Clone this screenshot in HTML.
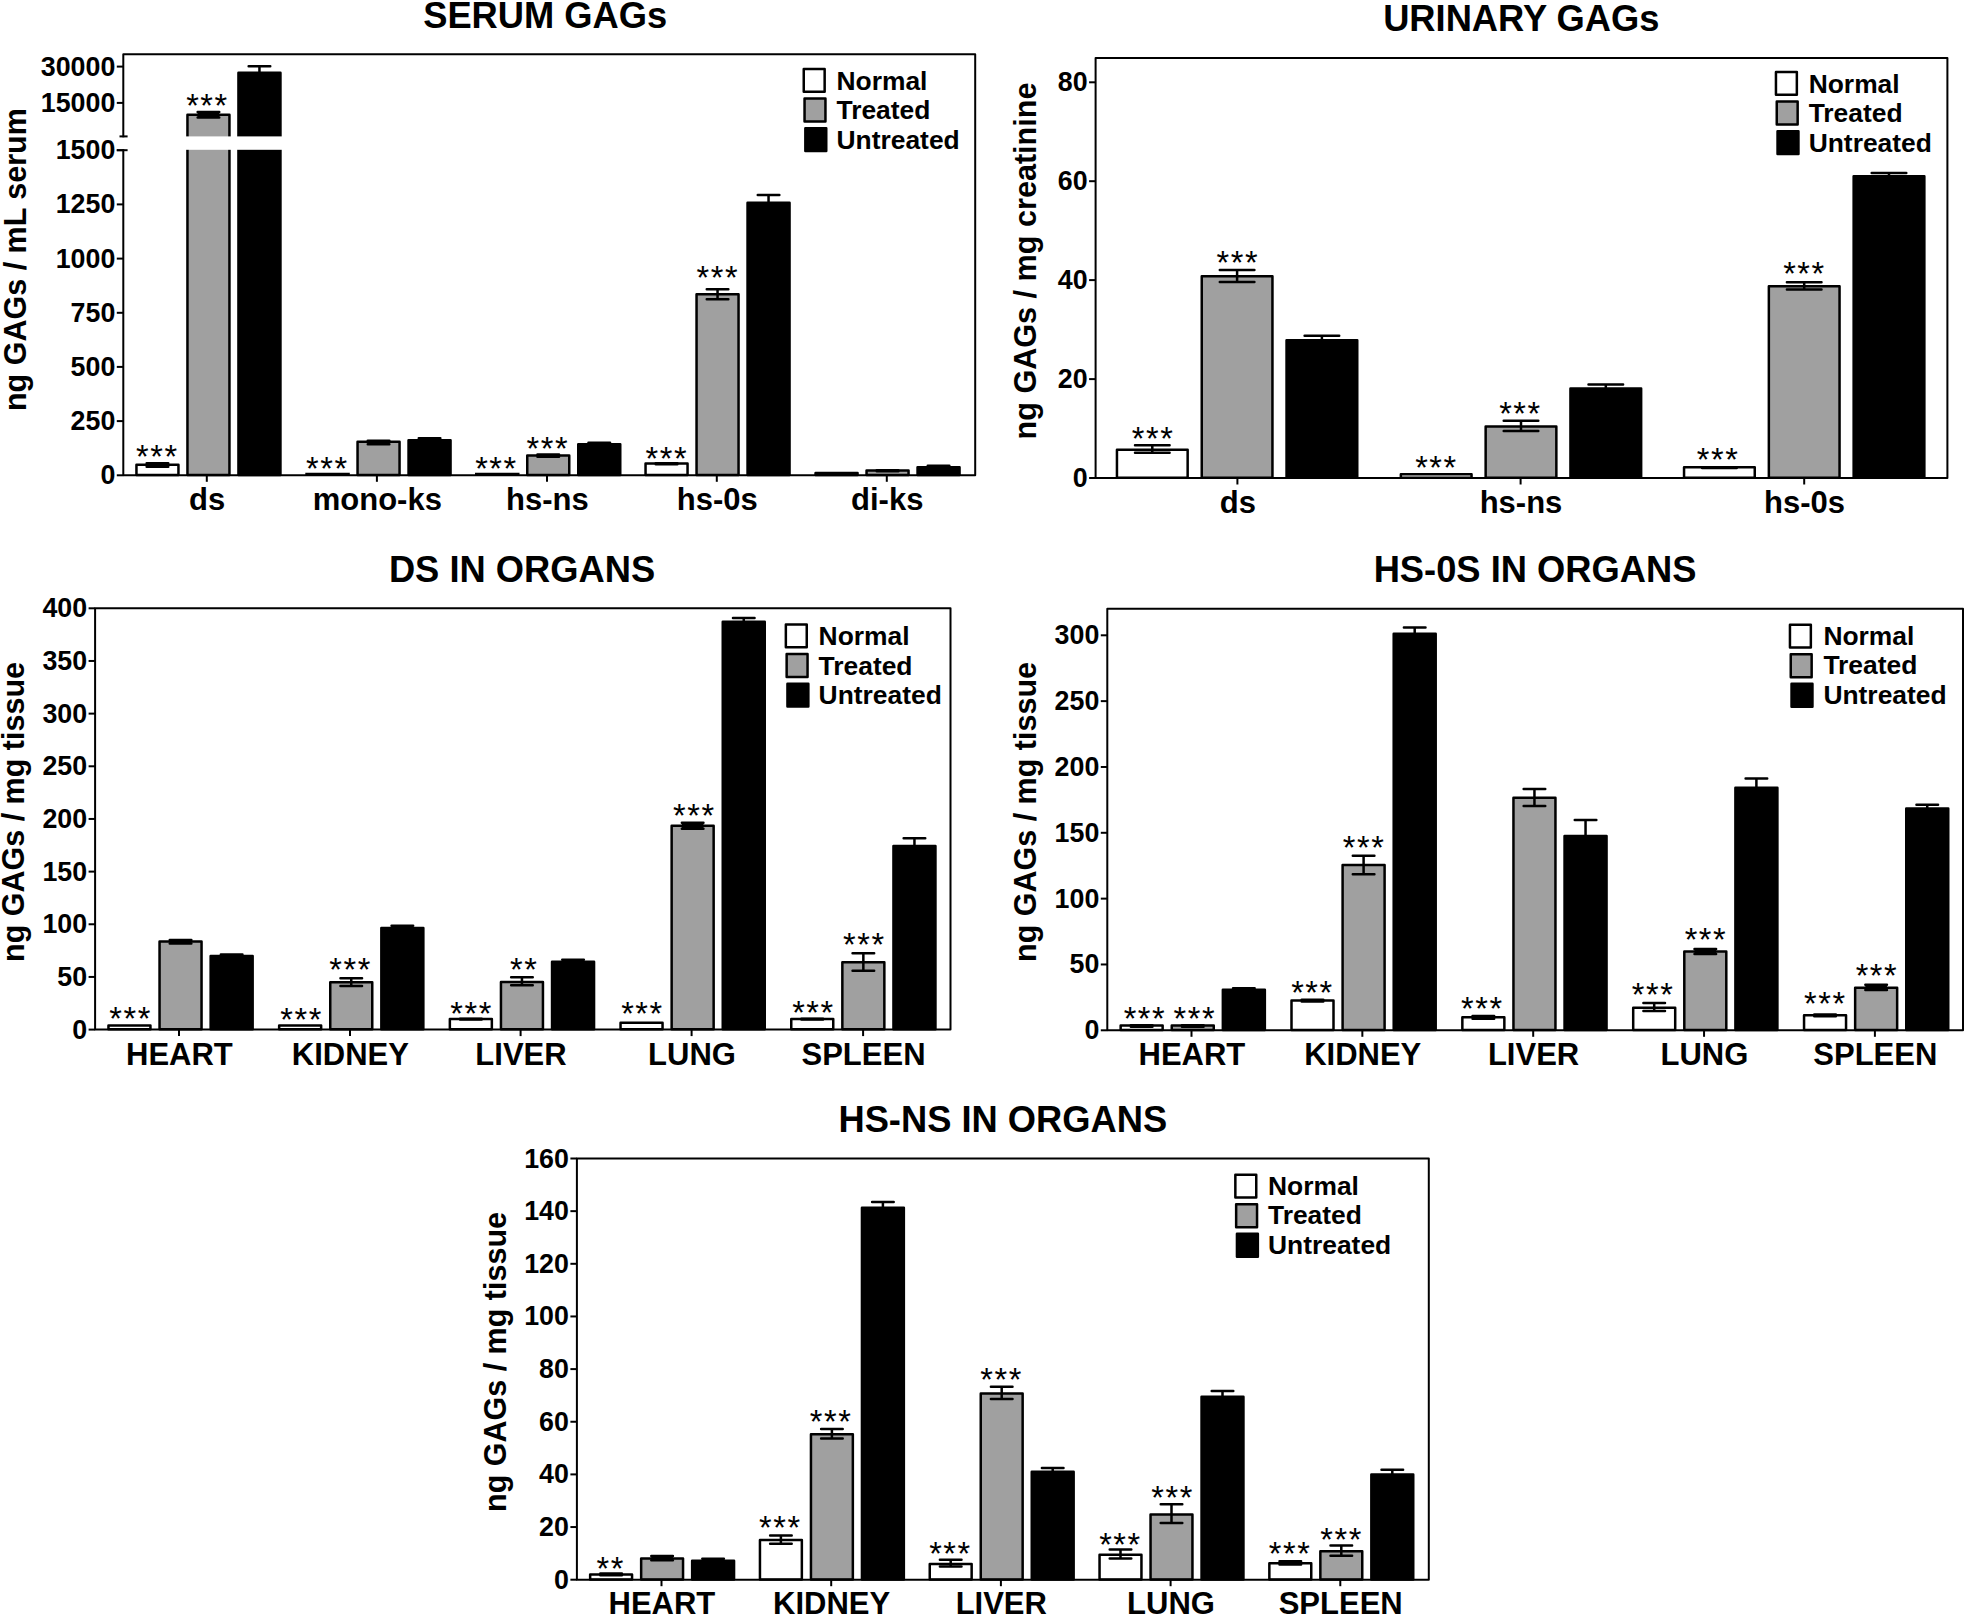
<!DOCTYPE html>
<html lang="en"><head><meta charset="utf-8"><title>GAGs in serum, urine and organs</title>
<style>
html,body{margin:0;padding:0;background:#fff;overflow:hidden;}
svg{display:block;}
text{font-family:"Liberation Sans",Arial,Helvetica,sans-serif;fill:#000;font-weight:bold;text-anchor:middle;}
line,rect{stroke:#000;stroke-width:2;stroke-linejoin:round;}
.b{stroke-width:2.5;}.eb{stroke:#000;stroke-width:2.5;stroke-linecap:round;fill:none;}
.n{font-weight:normal;letter-spacing:1.6px;}.e{text-anchor:end;}.s{text-anchor:start;}.ns{stroke:none;}
</style></head><body>
<svg width="1965" height="1616" viewBox="0 0 1965 1616">
<rect x="0" y="0" width="1965" height="1616" fill="#fff" class="ns"/>
<g>
<text x="545.2" y="27.8" font-size="36.3">SERUM GAGs</text>
<text transform="translate(25.5,259.6) rotate(-90)" font-size="30.5">ng GAGs / mL serum</text>
<rect class="b" x="136.45" y="464.75" width="42" height="10.3" fill="#ffffff"/>
<path class="eb" d="M157.45 463.3V466.8M146.65 463.3H168.25M146.65 466.8H168.25"/>
<rect class="ns" x="146.65" y="463.3" width="21.6" height="3.5" fill="#000"/>
<text x="157.4" y="467.98" font-size="32.5" class="n">***</text>
<rect class="b" x="187.45" y="114.65" width="42" height="360.4" fill="#a0a0a0"/>
<path class="eb" d="M208.45 111.9V117.4M197.65 111.9H219.25M197.65 117.4H219.25"/>
<rect class="ns" x="197.65" y="111.9" width="21.6" height="5.5" fill="#000"/>
<text x="207.5" y="116.88" font-size="32.5" class="n">***</text>
<rect class="b" x="238.45" y="72.85" width="42" height="402.2" fill="#000000"/>
<path class="eb" d="M259.45 66.3V73.1M248.65 66.3H270.25"/>
<line x1="206.8" y1="475.3" x2="206.8" y2="481.8"/>
<text x="207.2" y="510" font-size="31">ds</text>
<line class="b" x1="305.3" y1="474.1" x2="349.8" y2="474.1"/>
<text x="327.3" y="479.98" font-size="32.5" class="n">***</text>
<rect class="b" x="357.55" y="441.75" width="42" height="33.3" fill="#a0a0a0"/>
<path class="eb" d="M378.55 440.8V444.3M367.75 440.8H389.35M367.75 444.3H389.35"/>
<rect class="ns" x="367.75" y="440.8" width="21.6" height="3.5" fill="#000"/>
<rect class="b" x="408.55" y="440.25" width="42" height="34.8" fill="#000000"/>
<path class="eb" d="M429.55 438.3V440.5M418.75 438.3H440.35"/>
<line x1="376.9" y1="475.3" x2="376.9" y2="481.8"/>
<text x="377.3" y="510" font-size="31">mono-ks</text>
<line class="b" x1="475" y1="474.1" x2="519.5" y2="474.1"/>
<text x="496.5" y="479.98" font-size="32.5" class="n">***</text>
<rect class="b" x="527.25" y="455.55" width="42" height="19.5" fill="#a0a0a0"/>
<path class="eb" d="M548.25 454.5V456.8M537.45 454.5H559.05M537.45 456.8H559.05"/>
<rect class="ns" x="537.45" y="454.5" width="21.6" height="2.3" fill="#000"/>
<text x="547.8" y="460.48" font-size="32.5" class="n">***</text>
<rect class="b" x="578.25" y="444.25" width="42" height="30.8" fill="#000000"/>
<path class="eb" d="M599.25 442.8V444.5M588.45 442.8H610.05"/>
<line x1="547" y1="475.3" x2="547" y2="481.8"/>
<text x="547.4" y="510" font-size="31">hs-ns</text>
<rect class="b" x="645.55" y="463.55" width="42" height="11.5" fill="#ffffff"/>
<path class="eb" d="M666.55 463.3V464.3M655.75 463.3H677.35M655.75 464.3H677.35"/>
<text x="666.8" y="470.48" font-size="32.5" class="n">***</text>
<rect class="b" x="696.55" y="294.25" width="42" height="180.8" fill="#a0a0a0"/>
<path class="eb" d="M717.55 289.3V299.2M706.75 289.3H728.35M706.75 299.2H728.35"/>
<text x="717.8" y="288.68" font-size="32.5" class="n">***</text>
<rect class="b" x="747.55" y="202.75" width="42" height="272.3" fill="#000000"/>
<path class="eb" d="M768.55 194.9V203M757.75 194.9H779.35"/>
<line x1="716.8" y1="475.3" x2="716.8" y2="481.8"/>
<text x="717.2" y="510" font-size="31">hs-0s</text>
<rect class="b" x="815.55" y="473.05" width="42" height="2" fill="#ffffff"/>
<rect class="b" x="866.55" y="470.55" width="42" height="4.5" fill="#a0a0a0"/>
<path class="eb" d="M887.55 470.3V471.3M876.75 470.3H898.35M876.75 471.3H898.35"/>
<rect class="b" x="917.55" y="467.25" width="42" height="7.8" fill="#000000"/>
<path class="eb" d="M938.55 465.8V467.5M927.75 465.8H949.35"/>
<line x1="886.8" y1="475.3" x2="886.8" y2="481.8"/>
<text x="887.2" y="510" font-size="31">di-ks</text>
<rect x="126" y="136.4" width="170" height="13.4" fill="#fff" class="ns"/>
<rect x="118" y="137.2" width="8" height="12" fill="#fff" class="ns"/>
<rect x="123.3" y="54.2" width="851.9" height="421.1" fill="none"/>
<line x1="116.8" y1="66.6" x2="123.3" y2="66.6"/>
<text x="115.3" y="75.6" font-size="26.8" class="e">30000</text>
<line x1="116.8" y1="102.9" x2="123.3" y2="102.9"/>
<text x="115.3" y="111.9" font-size="26.8" class="e">15000</text>
<line x1="116.8" y1="150.2" x2="123.3" y2="150.2"/>
<text x="115.3" y="159.2" font-size="26.8" class="e">1500</text>
<line x1="116.8" y1="204.4" x2="123.3" y2="204.4"/>
<text x="115.3" y="213.4" font-size="26.8" class="e">1250</text>
<line x1="116.8" y1="258.6" x2="123.3" y2="258.6"/>
<text x="115.3" y="267.6" font-size="26.8" class="e">1000</text>
<line x1="116.8" y1="312.8" x2="123.3" y2="312.8"/>
<text x="115.3" y="321.8" font-size="26.8" class="e">750</text>
<line x1="116.8" y1="366.9" x2="123.3" y2="366.9"/>
<text x="115.3" y="375.9" font-size="26.8" class="e">500</text>
<line x1="116.8" y1="421.1" x2="123.3" y2="421.1"/>
<text x="115.3" y="430.1" font-size="26.8" class="e">250</text>
<line x1="116.8" y1="475.3" x2="123.3" y2="475.3"/>
<text x="115.3" y="484.3" font-size="26.8" class="e">0</text>
<rect class="b" x="803.75" y="68.95" width="20.9" height="22.9" fill="#ffffff"/>
<text x="836.5" y="89.6" font-size="26.4" class="s">Normal</text>
<rect class="b" x="804.55" y="98.55" width="20.9" height="22.9" fill="#a0a0a0"/>
<text x="836.5" y="119.2" font-size="26.4" class="s">Treated</text>
<rect class="b" x="805.35" y="128.15" width="20.9" height="22.9" fill="#000000"/>
<text x="836.5" y="148.8" font-size="26.4" class="s">Untreated</text>
</g>
<rect x="118" y="137.3" width="10.5" height="11.8" fill="#fff" class="ns"/>
<line x1="119.5" y1="136.4" x2="127.6" y2="136.4"/>
<line x1="116.8" y1="150.2" x2="127.6" y2="150.2"/>
<g>
<text x="1521.3" y="30.5" font-size="36.3">URINARY GAGs</text>
<text transform="translate(1035.6,261) rotate(-90)" font-size="30.6">ng GAGs / mg creatinine</text>
<rect class="b" x="1116.95" y="449.85" width="70.7" height="27.9" fill="#ffffff"/>
<path class="eb" d="M1152.3 445.3V452.8M1135 445.3H1169.6M1135 452.8H1169.6"/>
<text x="1153.2" y="450.08" font-size="32.5" class="n">***</text>
<rect class="b" x="1201.75" y="276.35" width="70.7" height="201.4" fill="#a0a0a0"/>
<path class="eb" d="M1237.1 270.1V282.1M1219.8 270.1H1254.4M1219.8 282.1H1254.4"/>
<text x="1237.8" y="273.98" font-size="32.5" class="n">***</text>
<rect class="b" x="1286.55" y="340.15" width="70.7" height="137.6" fill="#000000"/>
<path class="eb" d="M1321.9 335.7V340.4M1304.6 335.7H1339.2"/>
<line x1="1237.4" y1="478" x2="1237.4" y2="484.5"/>
<text x="1237.8" y="512.9" font-size="31">ds</text>
<rect class="b" x="1400.85" y="474.15" width="70.7" height="3.6" fill="#ffffff"/>
<text x="1436.5" y="478.88" font-size="32.5" class="n">***</text>
<rect class="b" x="1485.65" y="426.55" width="70.7" height="51.2" fill="#a0a0a0"/>
<path class="eb" d="M1521 420.8V431M1503.7 420.8H1538.3M1503.7 431H1538.3"/>
<text x="1520.5" y="424.98" font-size="32.5" class="n">***</text>
<rect class="b" x="1570.45" y="388.45" width="70.7" height="89.3" fill="#000000"/>
<path class="eb" d="M1605.8 384.5V388.7M1588.5 384.5H1623.1"/>
<line x1="1520.6" y1="478" x2="1520.6" y2="484.5"/>
<text x="1521" y="512.9" font-size="31">hs-ns</text>
<rect class="b" x="1684.05" y="467.35" width="70.7" height="10.4" fill="#ffffff"/>
<path class="eb" d="M1719.4 467.2V468M1702.1 467.2H1736.7M1702.1 468H1736.7"/>
<text x="1718.2" y="470.78" font-size="32.5" class="n">***</text>
<rect class="b" x="1768.85" y="286.15" width="70.7" height="191.6" fill="#a0a0a0"/>
<path class="eb" d="M1804.2 282.2V289.6M1786.9 282.2H1821.5M1786.9 289.6H1821.5"/>
<text x="1804.5" y="284.78" font-size="32.5" class="n">***</text>
<rect class="b" x="1853.65" y="176.25" width="70.7" height="301.5" fill="#000000"/>
<path class="eb" d="M1889 173.1V176.5M1871.7 173.1H1906.3"/>
<line x1="1804.2" y1="478" x2="1804.2" y2="484.5"/>
<text x="1804.6" y="512.9" font-size="31">hs-0s</text>
<rect x="1095.6" y="57.9" width="851.8" height="420.1" fill="none"/>
<line x1="1089.1" y1="82.3" x2="1095.6" y2="82.3"/>
<text x="1087.6" y="91.3" font-size="26.8" class="e">80</text>
<line x1="1089.1" y1="181.2" x2="1095.6" y2="181.2"/>
<text x="1087.6" y="190.2" font-size="26.8" class="e">60</text>
<line x1="1089.1" y1="280.1" x2="1095.6" y2="280.1"/>
<text x="1087.6" y="289.1" font-size="26.8" class="e">40</text>
<line x1="1089.1" y1="379.1" x2="1095.6" y2="379.1"/>
<text x="1087.6" y="388.1" font-size="26.8" class="e">20</text>
<line x1="1089.1" y1="478" x2="1095.6" y2="478"/>
<text x="1087.6" y="487" font-size="26.8" class="e">0</text>
<rect class="b" x="1775.95" y="71.95" width="20.9" height="22.9" fill="#ffffff"/>
<text x="1808.7" y="92.5" font-size="26.4" class="s">Normal</text>
<rect class="b" x="1776.75" y="101.55" width="20.9" height="22.9" fill="#a0a0a0"/>
<text x="1808.7" y="122.1" font-size="26.4" class="s">Treated</text>
<rect class="b" x="1777.55" y="131.15" width="20.9" height="22.9" fill="#000000"/>
<text x="1808.7" y="151.7" font-size="26.4" class="s">Untreated</text>
</g>
<g>
<text x="522" y="581.6" font-size="36.3">DS IN ORGANS</text>
<text transform="translate(23.8,812) rotate(-90)" font-size="30.5">ng GAGs / mg tissue</text>
<rect class="b" x="108.45" y="1025.55" width="42" height="3.8" fill="#ffffff"/>
<text x="130.6" y="1030.08" font-size="32.5" class="n">***</text>
<rect class="b" x="159.55" y="941.45" width="42" height="87.9" fill="#a0a0a0"/>
<path class="eb" d="M180.55 939.9V943.5M169.75 939.9H191.35M169.75 943.5H191.35"/>
<rect class="ns" x="169.75" y="939.9" width="21.6" height="3.6" fill="#000"/>
<rect class="b" x="210.65" y="955.95" width="42" height="73.4" fill="#000000"/>
<path class="eb" d="M231.65 954.6V956.2M220.85 954.6H242.45"/>
<line x1="179" y1="1029.6" x2="179" y2="1036.1"/>
<text x="179.4" y="1065.3" font-size="31">HEART</text>
<rect class="b" x="279.15" y="1025.55" width="42" height="3.8" fill="#ffffff"/>
<text x="301.7" y="1031.27" font-size="32.5" class="n">***</text>
<rect class="b" x="330.25" y="982.25" width="42" height="47.1" fill="#a0a0a0"/>
<path class="eb" d="M351.25 978.2V986M340.45 978.2H362.05M340.45 986H362.05"/>
<text x="350.7" y="981.18" font-size="32.5" class="n">***</text>
<rect class="b" x="381.35" y="927.95" width="42" height="101.4" fill="#000000"/>
<path class="eb" d="M402.35 925.7V928.2M391.55 925.7H413.15"/>
<line x1="350" y1="1029.6" x2="350" y2="1036.1"/>
<text x="350.4" y="1065.3" font-size="31">KIDNEY</text>
<rect class="b" x="449.85" y="1019.05" width="42" height="10.3" fill="#ffffff"/>
<path class="eb" d="M470.85 1018.8V1019.6M460.05 1018.8H481.65M460.05 1019.6H481.65"/>
<text x="471.7" y="1025.08" font-size="32.5" class="n">***</text>
<rect class="b" x="500.95" y="982.05" width="42" height="47.3" fill="#a0a0a0"/>
<path class="eb" d="M521.95 977.3V985.3M511.15 977.3H532.75M511.15 985.3H532.75"/>
<text x="524.2" y="981.18" font-size="32.5" class="n">**</text>
<rect class="b" x="552.05" y="961.75" width="42" height="67.6" fill="#000000"/>
<path class="eb" d="M573.05 959.7V962M562.25 959.7H583.85"/>
<line x1="520.6" y1="1029.6" x2="520.6" y2="1036.1"/>
<text x="521" y="1065.3" font-size="31">LIVER</text>
<rect class="b" x="620.55" y="1022.85" width="42" height="6.5" fill="#ffffff"/>
<text x="642.5" y="1025.08" font-size="32.5" class="n">***</text>
<rect class="b" x="671.65" y="825.75" width="42" height="203.6" fill="#a0a0a0"/>
<path class="eb" d="M692.65 822.7V828.8M681.85 822.7H703.45M681.85 828.8H703.45"/>
<rect class="ns" x="681.85" y="822.7" width="21.6" height="6.1" fill="#000"/>
<text x="694.3" y="826.98" font-size="32.5" class="n">***</text>
<rect class="b" x="722.75" y="621.65" width="42" height="407.7" fill="#000000"/>
<path class="eb" d="M743.75 617.9V621.9M732.95 617.9H754.55"/>
<line x1="691.6" y1="1029.6" x2="691.6" y2="1036.1"/>
<text x="692" y="1065.3" font-size="31">LUNG</text>
<rect class="b" x="791.25" y="1019.05" width="42" height="10.3" fill="#ffffff"/>
<path class="eb" d="M812.25 1018.8V1019.6M801.45 1018.8H823.05M801.45 1019.6H823.05"/>
<text x="813.5" y="1023.77" font-size="32.5" class="n">***</text>
<rect class="b" x="842.35" y="962.25" width="42" height="67.1" fill="#a0a0a0"/>
<path class="eb" d="M863.35 953.2V970.7M852.55 953.2H874.15M852.55 970.7H874.15"/>
<text x="864.3" y="956.18" font-size="32.5" class="n">***</text>
<rect class="b" x="893.45" y="846.05" width="42" height="183.3" fill="#000000"/>
<path class="eb" d="M914.45 838.3V846.3M903.65 838.3H925.25"/>
<line x1="863.1" y1="1029.6" x2="863.1" y2="1036.1"/>
<text x="863.5" y="1065.3" font-size="31">SPLEEN</text>
<rect x="95.1" y="608.3" width="855.4" height="421.3" fill="none"/>
<line x1="88.6" y1="608.3" x2="95.1" y2="608.3"/>
<text x="87.1" y="617.3" font-size="26.8" class="e">400</text>
<line x1="88.6" y1="660.96" x2="95.1" y2="660.96"/>
<text x="87.1" y="669.96" font-size="26.8" class="e">350</text>
<line x1="88.6" y1="713.62" x2="95.1" y2="713.62"/>
<text x="87.1" y="722.62" font-size="26.8" class="e">300</text>
<line x1="88.6" y1="766.29" x2="95.1" y2="766.29"/>
<text x="87.1" y="775.29" font-size="26.8" class="e">250</text>
<line x1="88.6" y1="818.95" x2="95.1" y2="818.95"/>
<text x="87.1" y="827.95" font-size="26.8" class="e">200</text>
<line x1="88.6" y1="871.61" x2="95.1" y2="871.61"/>
<text x="87.1" y="880.61" font-size="26.8" class="e">150</text>
<line x1="88.6" y1="924.27" x2="95.1" y2="924.27"/>
<text x="87.1" y="933.27" font-size="26.8" class="e">100</text>
<line x1="88.6" y1="976.94" x2="95.1" y2="976.94"/>
<text x="87.1" y="985.94" font-size="26.8" class="e">50</text>
<line x1="88.6" y1="1029.6" x2="95.1" y2="1029.6"/>
<text x="87.1" y="1038.6" font-size="26.8" class="e">0</text>
<rect class="b" x="785.85" y="624.45" width="20.9" height="22.9" fill="#ffffff"/>
<text x="818.6" y="645" font-size="26.4" class="s">Normal</text>
<rect class="b" x="786.65" y="654.05" width="20.9" height="22.9" fill="#a0a0a0"/>
<text x="818.6" y="674.6" font-size="26.4" class="s">Treated</text>
<rect class="b" x="787.45" y="683.65" width="20.9" height="22.9" fill="#000000"/>
<text x="818.6" y="704.2" font-size="26.4" class="s">Untreated</text>
</g>
<g>
<text x="1535" y="581.7" font-size="36.3">HS-0S IN ORGANS</text>
<text transform="translate(1036.2,812) rotate(-90)" font-size="30.5">ng GAGs / mg tissue</text>
<rect class="b" x="1120.65" y="1025.55" width="42" height="4.5" fill="#ffffff"/>
<path class="eb" d="M1141.65 1025.3V1026.7M1130.85 1025.3H1152.45M1130.85 1026.7H1152.45"/>
<rect class="ns" x="1130.85" y="1025.3" width="21.6" height="1.4" fill="#000"/>
<text x="1145" y="1030.27" font-size="32.5" class="n">***</text>
<rect class="b" x="1171.75" y="1025.55" width="42" height="4.5" fill="#a0a0a0"/>
<path class="eb" d="M1192.75 1025.3V1026.7M1181.95 1025.3H1203.55M1181.95 1026.7H1203.55"/>
<rect class="ns" x="1181.95" y="1025.3" width="21.6" height="1.4" fill="#000"/>
<text x="1194.8" y="1030.27" font-size="32.5" class="n">***</text>
<rect class="b" x="1222.85" y="989.75" width="42" height="40.3" fill="#000000"/>
<path class="eb" d="M1243.85 988.2V990M1233.05 988.2H1254.65"/>
<line x1="1191.5" y1="1030.3" x2="1191.5" y2="1036.8"/>
<text x="1191.9" y="1065.3" font-size="31">HEART</text>
<rect class="b" x="1291.5" y="1000.55" width="42" height="29.5" fill="#ffffff"/>
<path class="eb" d="M1312.5 999.8V1001.6M1301.7 999.8H1323.3M1301.7 1001.6H1323.3"/>
<rect class="ns" x="1301.7" y="999.8" width="21.6" height="1.8" fill="#000"/>
<text x="1312.5" y="1004.48" font-size="32.5" class="n">***</text>
<rect class="b" x="1342.6" y="865.05" width="42" height="165" fill="#a0a0a0"/>
<path class="eb" d="M1363.6 855.8V874.3M1352.8 855.8H1374.4M1352.8 874.3H1374.4"/>
<text x="1364.2" y="859.27" font-size="32.5" class="n">***</text>
<rect class="b" x="1393.7" y="633.85" width="42" height="396.2" fill="#000000"/>
<path class="eb" d="M1414.7 627.6V634.1M1403.9 627.6H1425.5"/>
<line x1="1362.35" y1="1030.3" x2="1362.35" y2="1036.8"/>
<text x="1362.75" y="1065.3" font-size="31">KIDNEY</text>
<rect class="b" x="1462.35" y="1017.25" width="42" height="12.8" fill="#ffffff"/>
<path class="eb" d="M1483.35 1015.9V1018.7M1472.55 1015.9H1494.15M1472.55 1018.7H1494.15"/>
<rect class="ns" x="1472.55" y="1015.9" width="21.6" height="2.8" fill="#000"/>
<text x="1482.3" y="1019.98" font-size="32.5" class="n">***</text>
<rect class="b" x="1513.45" y="797.85" width="42" height="232.2" fill="#a0a0a0"/>
<path class="eb" d="M1534.45 789V805.9M1523.65 789H1545.25M1523.65 805.9H1545.25"/>
<rect class="b" x="1564.55" y="835.95" width="42" height="194.1" fill="#000000"/>
<path class="eb" d="M1585.55 819.9V836.2M1574.75 819.9H1596.35"/>
<line x1="1533.2" y1="1030.3" x2="1533.2" y2="1036.8"/>
<text x="1533.6" y="1065.3" font-size="31">LIVER</text>
<rect class="b" x="1633.2" y="1007.65" width="42" height="22.4" fill="#ffffff"/>
<path class="eb" d="M1654.2 1002.9V1010.9M1643.4 1002.9H1665M1643.4 1010.9H1665"/>
<text x="1653.1" y="1005.88" font-size="32.5" class="n">***</text>
<rect class="b" x="1684.3" y="951.55" width="42" height="78.5" fill="#a0a0a0"/>
<path class="eb" d="M1705.3 949.1V954.1M1694.5 949.1H1716.1M1694.5 954.1H1716.1"/>
<rect class="ns" x="1694.5" y="949.1" width="21.6" height="5" fill="#000"/>
<text x="1706" y="950.58" font-size="32.5" class="n">***</text>
<rect class="b" x="1735.4" y="787.65" width="42" height="242.4" fill="#000000"/>
<path class="eb" d="M1756.4 778.4V787.9M1745.6 778.4H1767.2"/>
<line x1="1704.05" y1="1030.3" x2="1704.05" y2="1036.8"/>
<text x="1704.45" y="1065.3" font-size="31">LUNG</text>
<rect class="b" x="1804.05" y="1015.15" width="42" height="14.9" fill="#ffffff"/>
<path class="eb" d="M1825.05 1014.6V1016.2M1814.25 1014.6H1835.85M1814.25 1016.2H1835.85"/>
<rect class="ns" x="1814.25" y="1014.6" width="21.6" height="1.6" fill="#000"/>
<text x="1825.4" y="1015.48" font-size="32.5" class="n">***</text>
<rect class="b" x="1855.15" y="987.65" width="42" height="42.4" fill="#a0a0a0"/>
<path class="eb" d="M1876.15 984.7V990.1M1865.35 984.7H1886.95M1865.35 990.1H1886.95"/>
<rect class="ns" x="1865.35" y="984.7" width="21.6" height="5.4" fill="#000"/>
<text x="1877" y="987.18" font-size="32.5" class="n">***</text>
<rect class="b" x="1906.25" y="808.45" width="42" height="221.6" fill="#000000"/>
<path class="eb" d="M1927.25 804.8V808.7M1916.45 804.8H1938.05"/>
<line x1="1874.9" y1="1030.3" x2="1874.9" y2="1036.8"/>
<text x="1875.3" y="1065.3" font-size="31">SPLEEN</text>
<rect x="1107.3" y="608.8" width="855.7" height="421.5" fill="none"/>
<line x1="1100.8" y1="635.3" x2="1107.3" y2="635.3"/>
<text x="1099.3" y="644.3" font-size="26.8" class="e">300</text>
<line x1="1100.8" y1="701.13" x2="1107.3" y2="701.13"/>
<text x="1099.3" y="710.13" font-size="26.8" class="e">250</text>
<line x1="1100.8" y1="766.97" x2="1107.3" y2="766.97"/>
<text x="1099.3" y="775.97" font-size="26.8" class="e">200</text>
<line x1="1100.8" y1="832.8" x2="1107.3" y2="832.8"/>
<text x="1099.3" y="841.8" font-size="26.8" class="e">150</text>
<line x1="1100.8" y1="898.63" x2="1107.3" y2="898.63"/>
<text x="1099.3" y="907.63" font-size="26.8" class="e">100</text>
<line x1="1100.8" y1="964.47" x2="1107.3" y2="964.47"/>
<text x="1099.3" y="973.47" font-size="26.8" class="e">50</text>
<line x1="1100.8" y1="1030.3" x2="1107.3" y2="1030.3"/>
<text x="1099.3" y="1039.3" font-size="26.8" class="e">0</text>
<rect class="b" x="1789.95" y="624.65" width="20.9" height="22.9" fill="#ffffff"/>
<text x="1823.4" y="644.8" font-size="26.4" class="s">Normal</text>
<rect class="b" x="1790.75" y="654.25" width="20.9" height="22.9" fill="#a0a0a0"/>
<text x="1823.4" y="674.4" font-size="26.4" class="s">Treated</text>
<rect class="b" x="1791.55" y="683.85" width="20.9" height="22.9" fill="#000000"/>
<text x="1823.4" y="704" font-size="26.4" class="s">Untreated</text>
</g>
<g>
<text x="1002.8" y="1131.7" font-size="36.3">HS-NS IN ORGANS</text>
<text transform="translate(506.2,1362) rotate(-90)" font-size="30.5">ng GAGs / mg tissue</text>
<rect class="b" x="590.15" y="1574.55" width="41.9" height="4.9" fill="#ffffff"/>
<path class="eb" d="M611.1 1573.5V1575.3M600.3 1573.5H621.9M600.3 1575.3H621.9"/>
<rect class="ns" x="600.3" y="1573.5" width="21.6" height="1.8" fill="#000"/>
<text x="610.8" y="1579.77" font-size="32.5" class="n">**</text>
<rect class="b" x="641.15" y="1558.55" width="41.9" height="20.9" fill="#a0a0a0"/>
<path class="eb" d="M662.1 1556V1560.3M651.3 1556H672.9M651.3 1560.3H672.9"/>
<rect class="ns" x="651.3" y="1556" width="21.6" height="4.3" fill="#000"/>
<rect class="b" x="692.15" y="1560.75" width="41.9" height="18.7" fill="#000000"/>
<path class="eb" d="M713.1 1558.8V1561M702.3 1558.8H723.9"/>
<line x1="661.5" y1="1579.7" x2="661.5" y2="1586.2"/>
<text x="661.9" y="1613.7" font-size="31">HEART</text>
<rect class="b" x="759.95" y="1540.05" width="41.9" height="39.4" fill="#ffffff"/>
<path class="eb" d="M780.9 1535.5V1543.8M770.1 1535.5H791.7M770.1 1543.8H791.7"/>
<text x="780.4" y="1539.27" font-size="32.5" class="n">***</text>
<rect class="b" x="810.95" y="1434.35" width="41.9" height="145.1" fill="#a0a0a0"/>
<path class="eb" d="M831.9 1429.1V1438.6M821.1 1429.1H842.7M821.1 1438.6H842.7"/>
<text x="831.2" y="1432.88" font-size="32.5" class="n">***</text>
<rect class="b" x="861.95" y="1207.65" width="41.9" height="371.8" fill="#000000"/>
<path class="eb" d="M882.9 1201.9V1207.9M872.1 1201.9H893.7"/>
<line x1="831.2" y1="1579.7" x2="831.2" y2="1586.2"/>
<text x="831.6" y="1613.7" font-size="31">KIDNEY</text>
<rect class="b" x="929.75" y="1563.95" width="41.9" height="15.5" fill="#ffffff"/>
<path class="eb" d="M950.7 1559.7V1566.4M939.9 1559.7H961.5M939.9 1566.4H961.5"/>
<text x="950.5" y="1565.38" font-size="32.5" class="n">***</text>
<rect class="b" x="980.75" y="1393.55" width="41.9" height="185.9" fill="#a0a0a0"/>
<path class="eb" d="M1001.7 1386.8V1399M990.9 1386.8H1012.5M990.9 1399H1012.5"/>
<text x="1001.6" y="1391.17" font-size="32.5" class="n">***</text>
<rect class="b" x="1031.75" y="1471.75" width="41.9" height="107.7" fill="#000000"/>
<path class="eb" d="M1052.7 1468.1V1472M1041.9 1468.1H1063.5"/>
<line x1="1000.9" y1="1579.7" x2="1000.9" y2="1586.2"/>
<text x="1001.3" y="1613.7" font-size="31">LIVER</text>
<rect class="b" x="1099.55" y="1554.65" width="41.9" height="24.8" fill="#ffffff"/>
<path class="eb" d="M1120.5 1549.6V1558.4M1109.7 1549.6H1131.3M1109.7 1558.4H1131.3"/>
<text x="1120.5" y="1555.97" font-size="32.5" class="n">***</text>
<rect class="b" x="1150.55" y="1514.55" width="41.9" height="64.9" fill="#a0a0a0"/>
<path class="eb" d="M1171.5 1504.2V1523.1M1160.7 1504.2H1182.3M1160.7 1523.1H1182.3"/>
<text x="1172.6" y="1509.27" font-size="32.5" class="n">***</text>
<rect class="b" x="1201.55" y="1396.85" width="41.9" height="182.6" fill="#000000"/>
<path class="eb" d="M1222.5 1391V1397.1M1211.7 1391H1233.3"/>
<line x1="1170.6" y1="1579.7" x2="1170.6" y2="1586.2"/>
<text x="1171" y="1613.7" font-size="31">LUNG</text>
<rect class="b" x="1269.35" y="1563.15" width="41.9" height="16.3" fill="#ffffff"/>
<path class="eb" d="M1290.3 1561.3V1564.6M1279.5 1561.3H1301.1M1279.5 1564.6H1301.1"/>
<rect class="ns" x="1279.5" y="1561.3" width="21.6" height="3.3" fill="#000"/>
<text x="1290.2" y="1565.38" font-size="32.5" class="n">***</text>
<rect class="b" x="1320.35" y="1551.15" width="41.9" height="28.3" fill="#a0a0a0"/>
<path class="eb" d="M1341.3 1545.6V1555.7M1330.5 1545.6H1352.1M1330.5 1555.7H1352.1"/>
<text x="1341.6" y="1550.67" font-size="32.5" class="n">***</text>
<rect class="b" x="1371.35" y="1474.45" width="41.9" height="105" fill="#000000"/>
<path class="eb" d="M1392.3 1469.7V1474.7M1381.5 1469.7H1403.1"/>
<line x1="1340.3" y1="1579.7" x2="1340.3" y2="1586.2"/>
<text x="1340.7" y="1613.7" font-size="31">SPLEEN</text>
<rect x="576.9" y="1158.5" width="851.9" height="421.2" fill="none"/>
<line x1="570.4" y1="1158.5" x2="576.9" y2="1158.5"/>
<text x="568.9" y="1167.5" font-size="26.8" class="e">160</text>
<line x1="570.4" y1="1211.15" x2="576.9" y2="1211.15"/>
<text x="568.9" y="1220.15" font-size="26.8" class="e">140</text>
<line x1="570.4" y1="1263.8" x2="576.9" y2="1263.8"/>
<text x="568.9" y="1272.8" font-size="26.8" class="e">120</text>
<line x1="570.4" y1="1316.45" x2="576.9" y2="1316.45"/>
<text x="568.9" y="1325.45" font-size="26.8" class="e">100</text>
<line x1="570.4" y1="1369.1" x2="576.9" y2="1369.1"/>
<text x="568.9" y="1378.1" font-size="26.8" class="e">80</text>
<line x1="570.4" y1="1421.75" x2="576.9" y2="1421.75"/>
<text x="568.9" y="1430.75" font-size="26.8" class="e">60</text>
<line x1="570.4" y1="1474.4" x2="576.9" y2="1474.4"/>
<text x="568.9" y="1483.4" font-size="26.8" class="e">40</text>
<line x1="570.4" y1="1527.05" x2="576.9" y2="1527.05"/>
<text x="568.9" y="1536.05" font-size="26.8" class="e">20</text>
<line x1="570.4" y1="1579.7" x2="576.9" y2="1579.7"/>
<text x="568.9" y="1588.7" font-size="26.8" class="e">0</text>
<rect class="b" x="1235.35" y="1174.65" width="20.9" height="22.9" fill="#ffffff"/>
<text x="1268" y="1194.8" font-size="26.4" class="s">Normal</text>
<rect class="b" x="1236.15" y="1204.25" width="20.9" height="22.9" fill="#a0a0a0"/>
<text x="1268" y="1224.4" font-size="26.4" class="s">Treated</text>
<rect class="b" x="1236.95" y="1233.85" width="20.9" height="22.9" fill="#000000"/>
<text x="1268" y="1254" font-size="26.4" class="s">Untreated</text>
</g>
</svg></body></html>
